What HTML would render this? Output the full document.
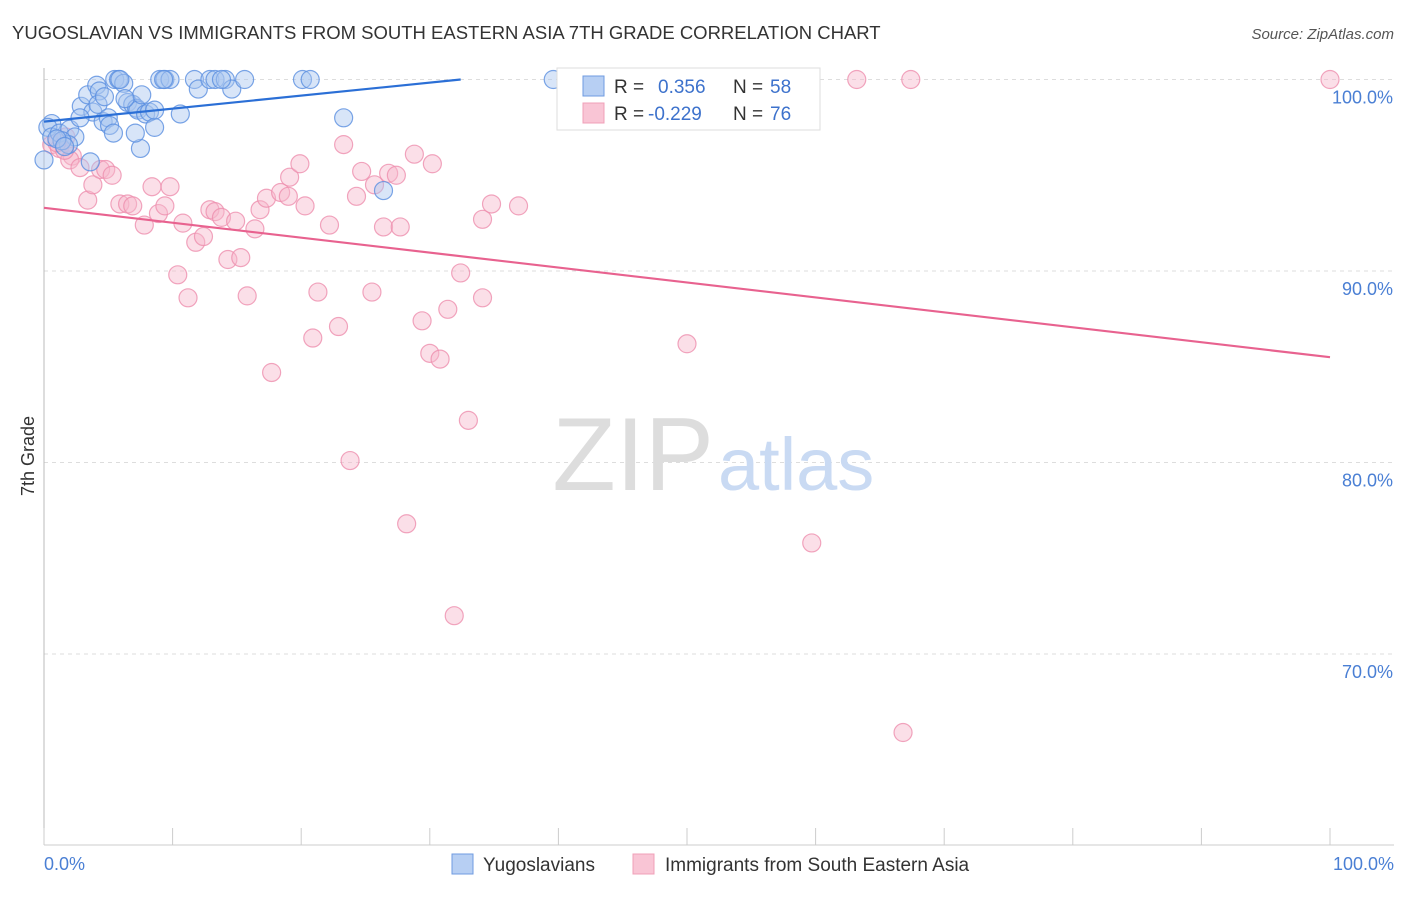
<!DOCTYPE html>
<html><head><meta charset="utf-8"><style>
body{margin:0;background:#fff;font-family:"Liberation Sans",sans-serif;}
svg text{font-family:"Liberation Sans",sans-serif;}
</style></head><body>
<svg width="1406" height="892">
<text x="12" y="39" font-size="18.5" fill="#333">YUGOSLAVIAN VS IMMIGRANTS FROM SOUTH EASTERN ASIA 7TH GRADE CORRELATION CHART</text>
<text x="1394" y="39" font-size="15" fill="#555" text-anchor="end" font-style="italic">Source: ZipAtlas.com</text>
<g id="grid"></g>
<text x="714" y="490" font-size="104" fill="#ddd" text-anchor="end" font-family="Liberation Serif">ZIP</text>
<text x="718" y="490" font-size="74" fill="#c9daf3">atlas</text>
<line x1="44" y1="68" x2="44" y2="845" stroke="#bbb"/>
<line x1="44" y1="845" x2="1394" y2="845" stroke="#ccc"/>
<g id="ticks"></g>
<g id="pts"></g>
<g id="lines"></g>
<text x="34" y="456" font-size="18" fill="#333" text-anchor="middle" transform="rotate(-90 34 456)">7th Grade</text>
<text x="44" y="870" font-size="18" fill="#4a7fd4">0.0%</text>
<text x="1394" y="870" font-size="18" fill="#4a7fd4" text-anchor="end">100.0%</text>
<g>
<rect x="557" y="68" width="263" height="62" fill="#fff" stroke="#ddd"/>
<rect x="583" y="76" width="21" height="20" fill="#b7cff3" stroke="#6f9be0"/>
<rect x="583" y="103" width="21" height="20" fill="#f9c5d5" stroke="#f0a0b8"/>
<text x="614" y="93" font-size="19" fill="#333">R =</text><text x="658" y="93" font-size="19" fill="#3d72cc">0.356</text>
<text x="733" y="93" font-size="19" fill="#333">N =</text><text x="770" y="93" font-size="19" fill="#3d72cc">58</text>
<text x="614" y="120" font-size="19" fill="#333">R =</text><text x="648" y="120" font-size="19" fill="#3d72cc">-0.229</text>
<text x="733" y="120" font-size="19" fill="#333">N =</text><text x="770" y="120" font-size="19" fill="#3d72cc">76</text>
</g>
<g>
<rect x="452" y="854" width="21" height="20" fill="#b7cff3" stroke="#6f9be0"/>
<text x="483" y="871" font-size="19" fill="#333">Yugoslavians</text>
<rect x="633" y="854" width="21" height="20" fill="#f9c5d5" stroke="#f0a0b8"/>
<text x="665" y="871" font-size="19" fill="#333">Immigrants from South Eastern Asia</text>
</g>
</svg>
<script>
const yTicks=[100,90,80,70];
const xTickCount=10;
const blueX=[0.6,0.3,0.6,1.2,2.0,2.4,2.9,3.4,3.8,4.1,4.3,4.2,4.6,5.0,5.1,5.4,5.5,5.8,6.2,6.5,6.9,7.2,7.3,7.6,7.5,7.9,8.2,8.6,8.6,9.0,9.4,9.8,10.6,11.7,12.0,12.9,13.3,14.1,14.6,15.6,20.1,20.7,23.3,26.4,39.6,3.6,0,1.9,1.4,1.0,2.8,1.6,6.3,4.7,7.1,5.9,9.3,13.8];
const blueY=[97.7,97.5,97.0,97.2,97.4,97.0,98.6,99.2,98.3,99.7,99.4,98.7,97.8,98.0,97.6,97.2,100,100,99.8,98.8,98.7,98.5,98.4,99.2,96.4,98.2,98.3,97.5,98.4,100,100,100,98.2,100,99.5,100,100,100,99.5,100,100,100,98.0,94.2,100,95.7,95.8,96.6,96.8,96.9,98.0,96.5,99.0,99.1,97.2,100,100,100];
const pinkX=[0.6,1.2,1.7,2.2,2.0,2.8,3.4,3.8,4.4,4.8,5.3,5.9,6.5,6.9,7.8,8.4,8.9,9.4,9.8,10.4,10.8,11.2,11.8,12.4,12.9,13.3,13.8,14.3,14.9,15.3,15.8,16.4,16.8,17.3,17.7,18.4,19.0,19.1,19.9,20.3,20.9,21.3,22.2,22.9,23.3,23.8,24.3,24.7,25.5,25.7,26.4,26.8,27.4,27.7,28.2,28.8,29.4,30.0,30.2,30.8,31.4,31.9,32.4,33.0,34.1,34.1,34.8,36.9,50.0,59.7,63.2,66.8,67.4,100,1.6,1.0];
const pinkY=[96.6,96.4,97.0,96.0,95.8,95.4,93.7,94.5,95.3,95.3,95.0,93.5,93.5,93.4,92.4,94.4,93.0,93.4,94.4,89.8,92.5,88.6,91.5,91.8,93.2,93.1,92.8,90.6,92.6,90.7,88.7,92.2,93.2,93.8,84.7,94.1,93.9,94.9,95.6,93.4,86.5,88.9,92.4,87.1,96.6,80.1,93.9,95.2,88.9,94.5,92.3,95.1,95.0,92.3,76.8,96.1,87.4,85.7,95.6,85.4,88.0,72.0,89.9,82.2,92.7,88.6,93.5,93.4,86.2,75.8,100,65.9,100,100,96.3,96.7];
const blueFit=[97.8,100];
const pinkFit=[93.3,85.5];
const NS='http://www.w3.org/2000/svg';
const X0=44,X1=1330,Y100=79.5,PX10=191.5;
const sx=v=>X0+(X1-X0)*v/100;
const sy=v=>Y100+(100-v)*PX10/10;
function mk(tag,attrs,parent){const e=document.createElementNS(NS,tag);for(const k in attrs)e.setAttribute(k,attrs[k]);parent.appendChild(e);return e;}
const grid=document.getElementById('grid');
yTicks.forEach(t=>{
 const l=mk('line',{x1:44,x2:1394,y1:sy(t),y2:sy(t),stroke:'#ddd','stroke-dasharray':'4,4'},grid);
 
 
 const tx=mk('text',{x:1393,y:sy(t)+24,'font-size':18,fill:'#4a7fd4','text-anchor':'end'},grid);
 tx.textContent=t.toFixed(1)+'%';
 
 
});
const ticks=document.getElementById('ticks');
for(let i=0;i<=xTickCount;i++){
 const l=mk('line',{x1:sx(i*10),x2:sx(i*10),y1:828,y2:845,stroke:'#ccc'},ticks);
 
 
}
const pts=document.getElementById('pts');
function draw(xs,ys,fill,stroke,name){xs.forEach((x,i)=>{
 const c=mk('circle',{cx:sx(x),cy:sy(ys[i]),r:9,fill:fill,'fill-opacity':0.45,stroke:stroke,'stroke-opacity':0.8,'stroke-width':1.2},pts);
 
 
});}
draw(pinkX,pinkY,'#f7b8cb','#ee8fae','pink-point');
draw(blueX,blueY,'#a8c6f0','#5a8fe0','blue-point');
const lines=document.getElementById('lines');
const bl=mk('line',{x1:sx(0),y1:sy(blueFit[0]),x2:sx(32.4),y2:sy(blueFit[1]),stroke:'#2b6fd6','stroke-width':2.2},lines);


const pl=mk('line',{x1:sx(0),y1:sy(pinkFit[0]),x2:sx(100),y2:sy(pinkFit[1]),stroke:'#e8628f','stroke-width':2.2},lines);


</script>
</body></html>
